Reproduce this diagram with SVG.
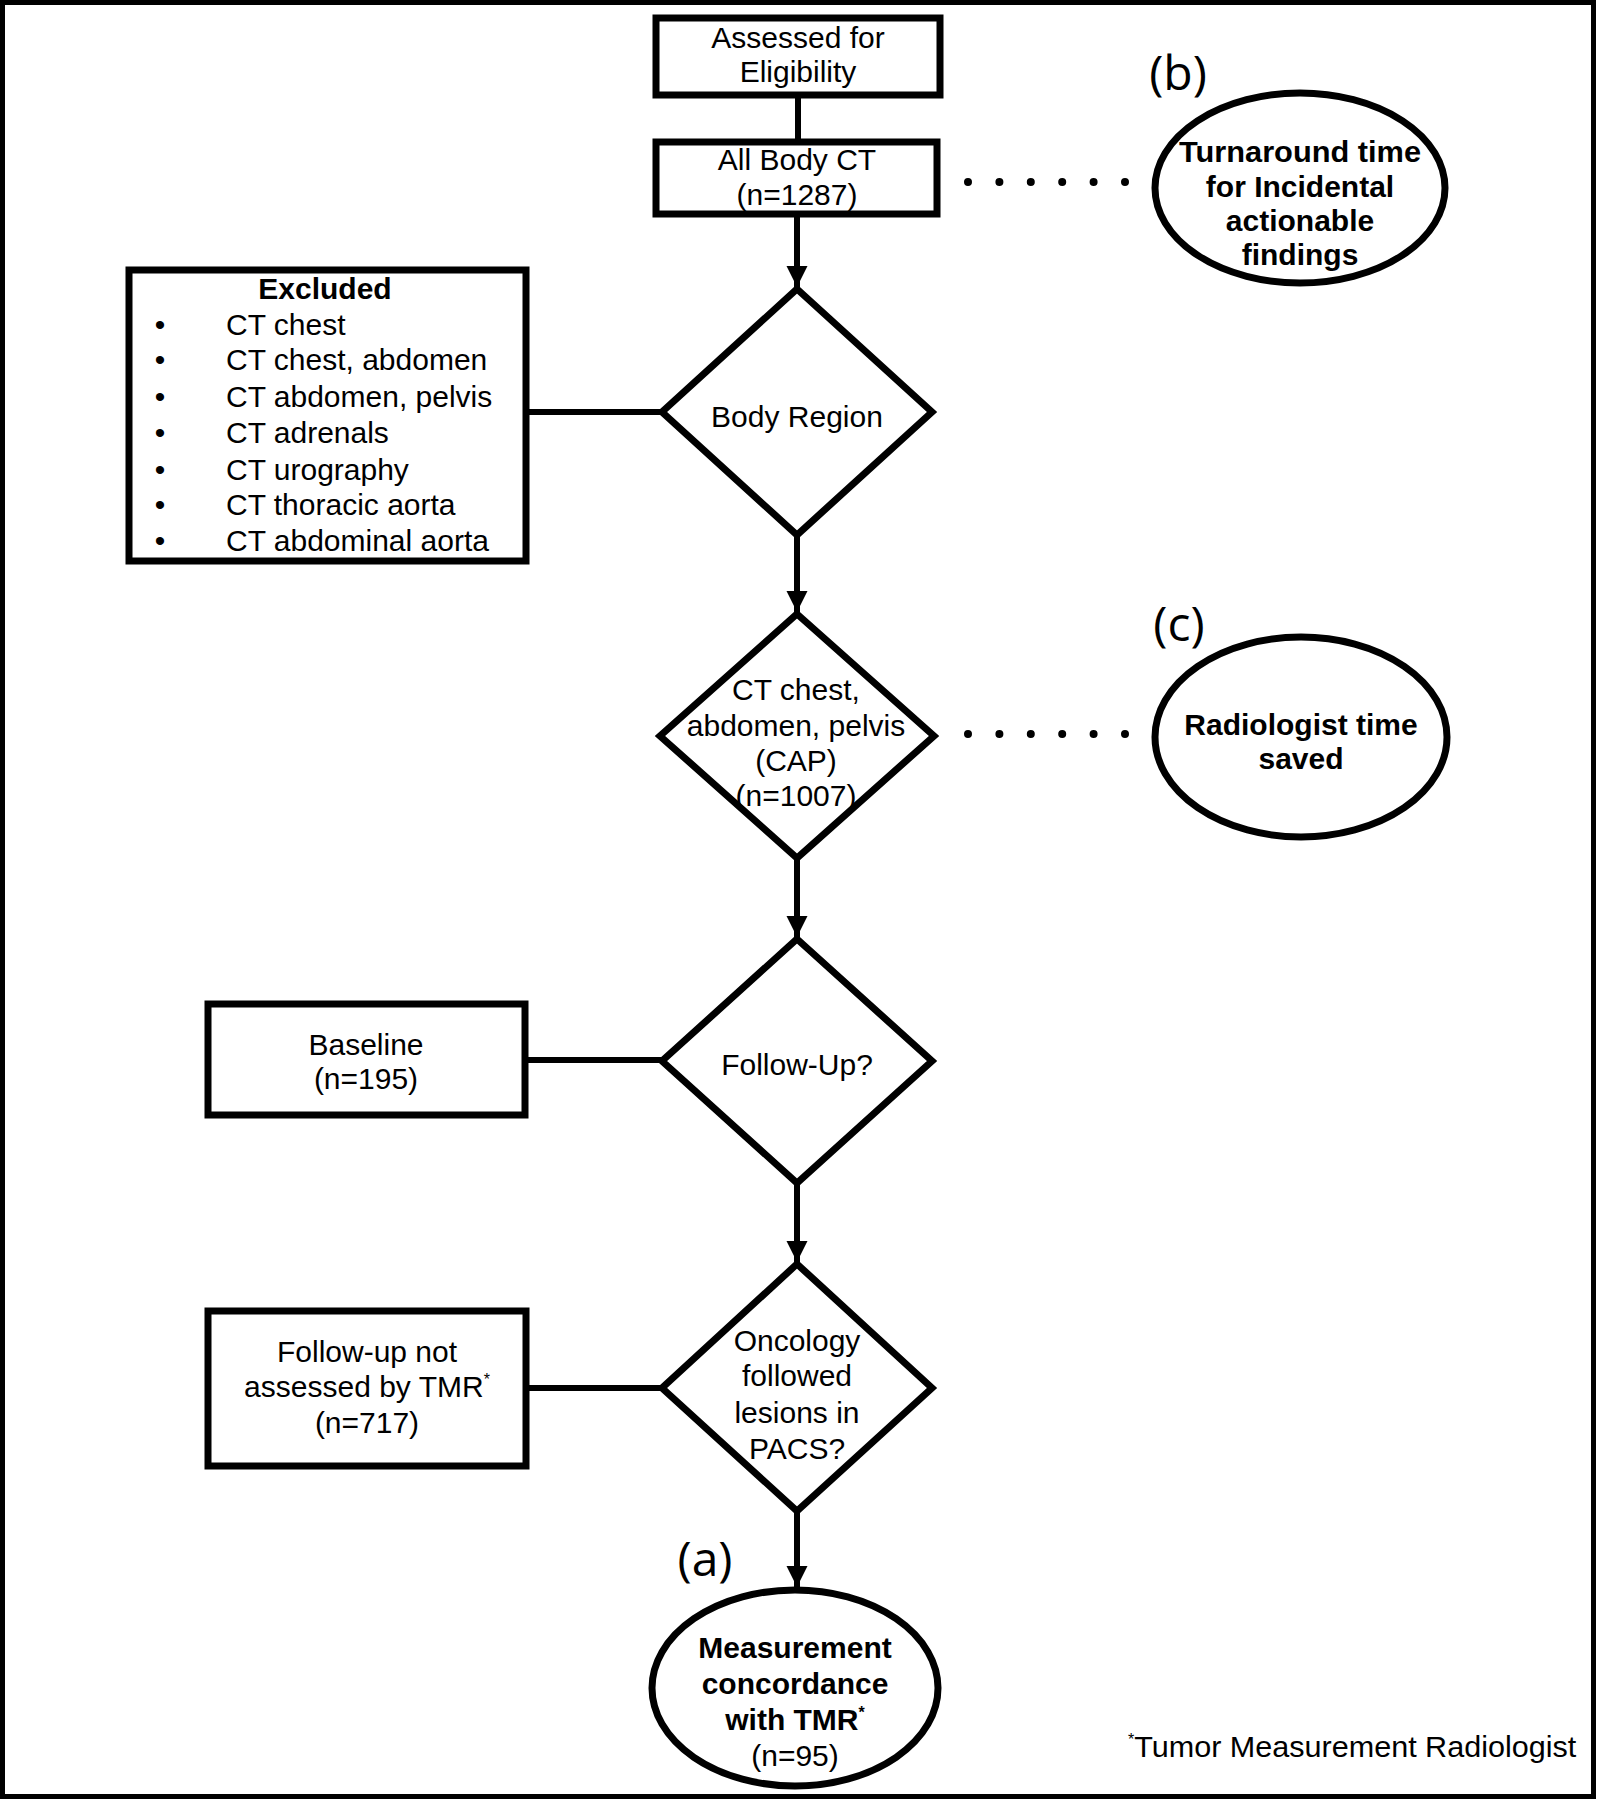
<svg xmlns="http://www.w3.org/2000/svg" width="1598" height="1800" viewBox="0 0 1598 1800">
<style>
text{font-family:"Liberation Sans",Arimo,Arial,sans-serif;font-size:30px;fill:#000}
.c{text-anchor:middle}
.b{font-weight:bold}
.lab{font-family:"Open Sans","Liberation Sans",sans-serif;font-size:48px;text-anchor:middle}
.shape{fill:#fff;stroke:#000;stroke-width:7}
.conn{stroke:#000;stroke-width:6;fill:none}
.dots{stroke:#000;stroke-width:8;stroke-linecap:round;stroke-dasharray:0 31.4;fill:none}
.sup{font-size:16px}
</style>
<defs>
<marker id="arr" markerUnits="userSpaceOnUse" markerWidth="24" markerHeight="24" viewBox="0 0 24 24" refX="21" refY="12" orient="auto">
<path d="M0,1.5 L21,12 L0,22.5 Z" fill="#000"/>
</marker>
</defs>
<rect x="2.5" y="2.5" width="1591" height="1794" fill="#fff" stroke="#000" stroke-width="5"/>

<g id="connectors">
<line class="conn" x1="798" y1="95" x2="798" y2="142"/>
<line class="conn" x1="797" y1="214" x2="797" y2="287" marker-end="url(#arr)"/>
<line class="conn" x1="797" y1="536" x2="797" y2="612" marker-end="url(#arr)"/>
<line class="conn" x1="797" y1="859" x2="797" y2="937" marker-end="url(#arr)"/>
<line class="conn" x1="797" y1="1184" x2="797" y2="1262" marker-end="url(#arr)"/>
<line class="conn" x1="797" y1="1511" x2="797" y2="1587" marker-end="url(#arr)"/>
<line class="conn" x1="527" y1="412" x2="662" y2="412"/>
<line class="conn" x1="525" y1="1060" x2="662" y2="1060"/>
<line class="conn" x1="526" y1="1388" x2="662" y2="1388"/>
<line class="dots" x1="968" y1="182" x2="1126" y2="182"/>
<line class="dots" x1="968" y1="734" x2="1126" y2="734"/>
</g>

<g id="assessed">
<rect class="shape" x="656" y="18" width="284" height="77"/>
<text class="c" x="798" y="48">Assessed for</text>
<text class="c" x="798" y="82">Eligibility</text>
</g>

<g id="allbody">
<rect class="shape" x="656" y="142" width="281" height="72"/>
<text class="c" x="797" y="170">All Body CT</text>
<text class="c" x="797" y="205">(n=1287)</text>
</g>

<g id="excluded">
<rect class="shape" x="129" y="270" width="397" height="291"/>
<text class="c b" x="325" y="299">Excluded</text>
<text x="160" y="335" class="c">•</text><text x="226" y="335">CT chest</text>
<text x="160" y="370" class="c">•</text><text x="226" y="370">CT chest, abdomen</text>
<text x="160" y="407" class="c">•</text><text x="226" y="407">CT abdomen, pelvis</text>
<text x="160" y="443" class="c">•</text><text x="226" y="443">CT adrenals</text>
<text x="160" y="480" class="c">•</text><text x="226" y="480">CT urography</text>
<text x="160" y="515" class="c">•</text><text x="226" y="515">CT thoracic aorta</text>
<text x="160" y="551" class="c">•</text><text x="226" y="551">CT abdominal aorta</text>
</g>

<g id="bodyregion">
<polygon class="shape" points="797,289 932,412 797,535 662,412"/>
<text class="c" x="797" y="427">Body Region</text>
</g>

<g id="cap">
<polygon class="shape" points="797,614 934,736 797,858 660,736"/>
<text class="c" x="796" y="700">CT chest,</text>
<text class="c" x="796" y="736">abdomen, pelvis</text>
<text class="c" x="796" y="771">(CAP)</text>
<text class="c" x="796" y="806">(n=1007)</text>
</g>

<g id="followup">
<polygon class="shape" points="797,939 932,1061 797,1183 662,1061"/>
<text class="c" x="797" y="1075">Follow-Up?</text>
</g>

<g id="baseline">
<rect class="shape" x="208" y="1004" width="317" height="111"/>
<text class="c" x="366" y="1055">Baseline</text>
<text class="c" x="366" y="1089">(n=195)</text>
</g>

<g id="oncology">
<polygon class="shape" points="797,1264 932,1388 797,1511 662,1388"/>
<text class="c" x="797" y="1351">Oncology</text>
<text class="c" x="797" y="1386">followed</text>
<text class="c" x="797" y="1423">lesions in</text>
<text class="c" x="797" y="1459">PACS?</text>
</g>

<g id="notassessed">
<rect class="shape" x="208" y="1311" width="318" height="155"/>
<text class="c" x="367" y="1362">Follow-up not</text>
<text class="c" x="367" y="1397">assessed by TMR<tspan class="sup" dy="-12">*</tspan></text>
<text class="c" x="367" y="1433">(n=717)</text>
</g>

<g id="concordance">
<ellipse class="shape" cx="795" cy="1688" rx="143" ry="98"/>
<text class="c b" x="795" y="1658">Measurement</text>
<text class="c b" x="795" y="1694">concordance</text>
<text class="c b" x="795" y="1730">with TMR<tspan class="sup" dy="-12">*</tspan></text>
<text class="c" x="795" y="1766">(n=95)</text>
<text class="lab" x="705" y="1576">(a)</text>
</g>

<g id="turnaround">
<ellipse class="shape" cx="1300" cy="188" rx="145" ry="95"/>
<text class="c b" x="1300" y="162" textLength="242" lengthAdjust="spacingAndGlyphs">Turnaround  time</text>
<text class="c b" x="1300" y="197">for Incidental</text>
<text class="c b" x="1300" y="231">actionable</text>
<text class="c b" x="1300" y="265">findings</text>
<text class="lab" x="1178" y="90">(b)</text>
</g>

<g id="radtime">
<ellipse class="shape" cx="1301" cy="737" rx="146" ry="100"/>
<text class="c b" x="1301" y="735">Radiologist  time</text>
<text class="c b" x="1301" y="769">saved</text>
<text class="lab" x="1179" y="641">(c)</text>
</g>

<g id="footnote">
<text x="1128" y="1757"><tspan class="sup" dy="-12">*</tspan><tspan dy="12" textLength="442" lengthAdjust="spacingAndGlyphs">Tumor Measurement Radiologist</tspan></text>
</g>
</svg>
